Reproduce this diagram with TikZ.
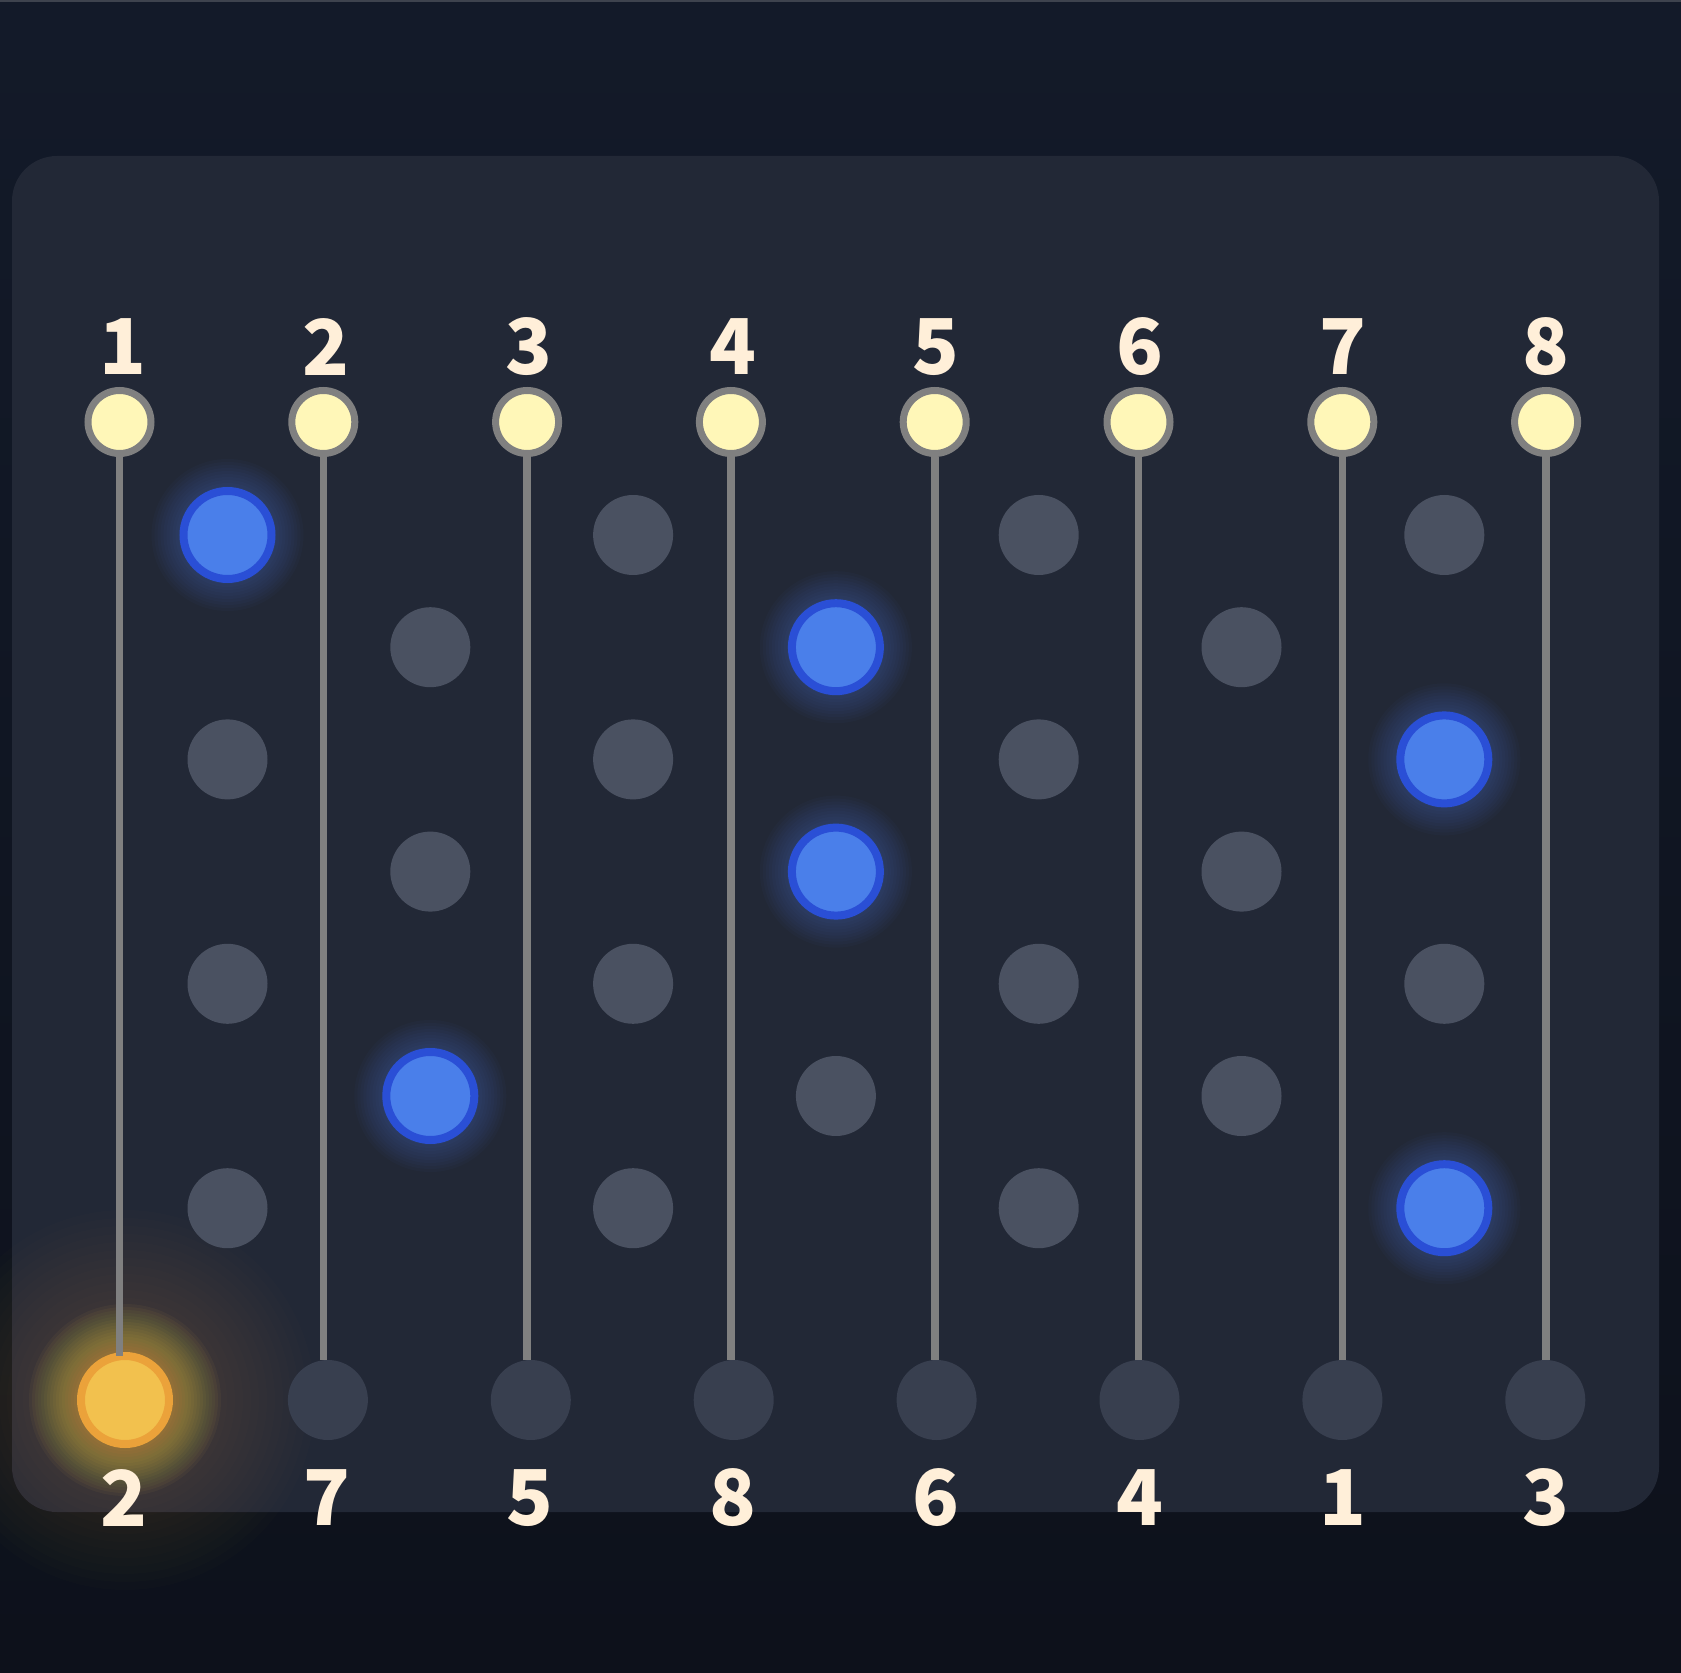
\documentclass[tikz,border=0pt]{standalone}
\usepackage{fontspec}
\newfontfamily\numfont{Noto Sans CJK SC}
\definecolor{bgtop}{HTML}{131A29}
\definecolor{bgbot}{HTML}{0D111B}
\definecolor{edgeline}{HTML}{3E434E}
\definecolor{panel}{HTML}{222836}
\definecolor{wire}{HTML}{808080}
\definecolor{topfill}{HTML}{FFF7B8}
\definecolor{txt}{HTML}{FFEFD9}
\definecolor{rung}{HTML}{4A5161}
\definecolor{endgray}{HTML}{383F4F}
\definecolor{bluefill}{HTML}{4A7FEA}
\definecolor{bluerim}{HTML}{2A4FD6}
\definecolor{goldfill}{HTML}{F2C14E}
\definecolor{goldrim}{HTML}{EBA23A}
\begin{document}
\begin{tikzpicture}[x=0.5pt,y=-0.5pt,
  topdot/.style={circle, draw=wire, line width=3.5pt, fill=topfill, minimum size=31.5pt, inner sep=0pt},
  rungdot/.style={circle, fill=rung, minimum size=40pt, inner sep=0pt},
  bluedot/.style={circle, draw=bluerim, line width=4pt, fill=bluefill, minimum size=44pt, inner sep=0pt},
  enddot/.style={circle, fill=endgray, minimum size=40pt, inner sep=0pt},
  golddot/.style={circle, draw=goldrim, line width=4pt, fill=goldfill, minimum size=44pt, inner sep=0pt, outer sep=0pt},
  numlabel/.style={text=txt, inner sep=0pt, font=\numfont\bfseries\fontsize{38.5}{40}\selectfont},
  wireline/.style={draw=wire, line width=3.8pt}]
\useasboundingbox (0,0) rectangle (1681,1673);
\shade[top color=bgtop, bottom color=bgbot] (0,0) rectangle (1681,1673);
\draw[edgeline, line width=1pt] (0,1) -- (1681,1);
% panel
\fill[panel, rounded corners=22.5pt] (12,156) rectangle (1659,1512);
% gold glow
\foreach \rad in {48,51,...,96} \fill[goldfill, opacity=0.045] (125,1400) circle (\rad);
\foreach \rad in {102,110,...,190} \fill[goldfill, opacity=0.012] (125,1400) circle (\rad);
% blue glows
\foreach \c/\r in {1/1,2/6,4/2,4/4,7/3,7/7}{
  \foreach \rad in {46,49,...,76}
    \fill[bluefill, opacity=0.03] ({227.5+202.8*(\c-1)},{535+112.2*(\r-1)}) circle (\rad);
}
% rung dots
\foreach \c/\r in {1/3,1/5,1/7,2/2,2/4,3/1,3/3,3/5,3/7,4/6,5/1,5/3,5/5,5/7,6/2,6/4,6/6,7/1,7/5}
  \node[rungdot] (g\c\r) at ({227.5+202.8*(\c-1)},{535+112.2*(\r-1)}) {};
\foreach \c/\r in {1/1,2/6,4/2,4/4,7/3,7/7}
  \node[bluedot] (s\c\r) at ({227.5+202.8*(\c-1)},{535+112.2*(\r-1)}) {};
% bottom end dots
\node[golddot] (b1) at (125,1400) {};
\foreach \i in {2,...,8}
  \node[enddot] (b\i) at ({125+202.9*(\i-1)},1400) {};
% top dots
\foreach \i in {1,...,8}
  \node[topdot] (t\i) at ({119.5+203.8*(\i-1)},422) {};
% wires
\foreach \i in {1,...,8}
  \draw[wireline] (t\i.south) -- (t\i |- b\i.north);
% labels
\foreach \i in {1,...,8}
  \node[numlabel] (n\i) at ({122.5+203.4*(\i-1)},347) {\i};
\foreach \v [count=\i] in {2,7,5,8,6,4,1,3}
  \node[numlabel] (m\i) at ({124+203.1*(\i-1)},1498) {\v};
\end{tikzpicture}
\end{document}
